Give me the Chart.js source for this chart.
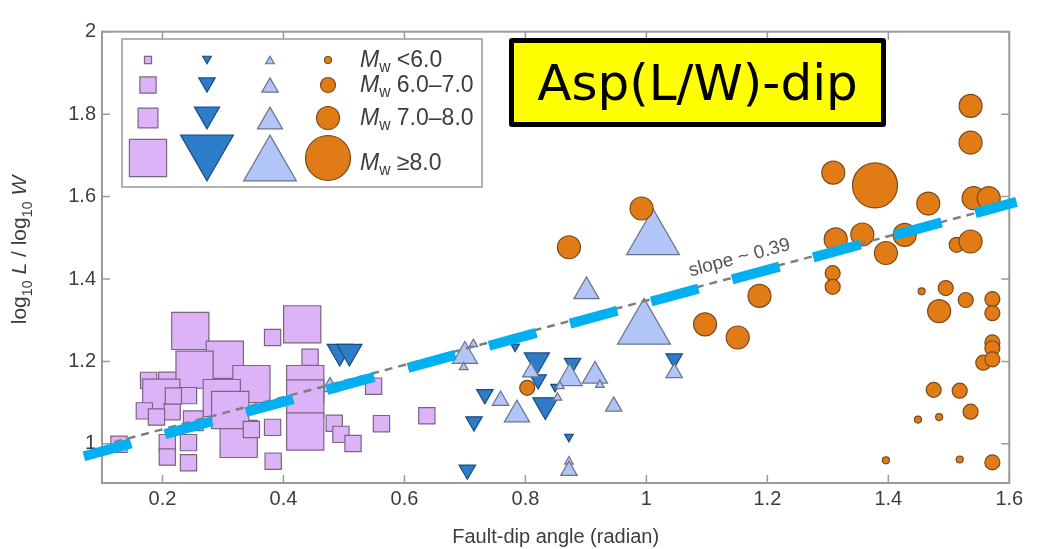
<!DOCTYPE html>
<html>
<head>
<meta charset="utf-8">
<title>Asp(L/W)-dip</title>
<script src="https://cdn.jsdelivr.net/npm/chart.js@4.4.0/dist/chart.umd.min.js"></script>
<style>
  html, body { margin: 0; padding: 0; background: #fff; }
  #wrap { position: relative; width: 1041px; height: 549px; }
  #dipTag {
    position: absolute; left: 509px; top: 38px; width: 377px; height: 89px;
    box-sizing: border-box; border: 5px solid #000; border-radius: 3px;
    background: #ffff00; color: #000;
    font-family: "Comic Sans MS", "DejaVu Sans", sans-serif; font-size: 50px;
    display: flex; align-items: center; justify-content: center;
  }
</style>
</head>
<body>
<div id="wrap">
  <canvas id="dipChart" width="1041" height="549"></canvas>
  <div id="dipTag">Asp(L/W)-dip</div>
</div>
<script>
// axis ticks
const xTicks = [0.2, 0.4, 0.6, 0.8, 1, 1.2, 1.4, 1.6];
const yTicks = [1, 1.2, 1.4, 1.6, 1.8, 2];

// magnitude bins (index used by the *Mw arrays below)
const mwBins = ['<6.0', '6.0\u20137.0', '7.0\u20138.0', '\u22658.0'];

// squares
const squareDip = [0.177, 0.210, 0.326, 0.246, 0.431, 0.303, 0.253, 0.347, 0.198, 0.298, 0.312, 0.436, 0.436, 0.436,
  0.251, 0.382, 0.243, 0.216, 0.170, 0.190, 0.347, 0.382, 0.208, 0.243, 0.128, 0.208, 0.243, 0.383, 0.444,
  0.484, 0.495, 0.515, 0.549, 0.562, 0.637, 0.218];
const squareAsp = [1.154, 1.150, 1.012, 1.274, 1.290, 1.204, 1.180, 1.145, 1.112, 1.111, 1.082, 1.145, 1.110, 1.030,
  1.056, 1.258, 1.117, 1.078, 1.080, 1.065, 1.035, 1.040, 1.003, 1.003, 0.999, 0.968, 0.954, 0.958, 1.210,
  1.050, 1.023, 1.001, 1.140, 1.049, 1.068, 1.116];
const squareMw = [1, 2, 3, 3, 3, 3, 3, 3, 3, 3, 3, 3, 3, 3,
  2, 1, 1, 1, 1, 1, 1, 1, 1, 1, 1, 1, 1, 1, 1,
  1, 1, 1, 1, 1, 1, 1];

// downward triangles
const downDip = [0.493, 0.509, 0.783, 0.819, 0.821, 0.878, 0.849, 0.733, 0.833, 0.715, 0.872, 0.704, 1.046];
const downAsp = [1.224, 1.224, 1.236, 1.203, 1.156, 1.196, 1.138, 1.120, 1.094, 1.054, 1.017, 0.937, 1.207];
const downMw = [2, 2, 0, 2, 1, 1, 0, 1, 2, 1, 0, 1, 1];

// upward triangles
const upDip = [1.011, 0.901, 0.996, 1.046, 0.946, 0.915, 0.700, 0.714, 0.698, 0.477, 0.809, 0.873, 0.923,
  0.857, 0.853, 0.759, 0.786, 0.872, 0.872];
const upAsp = [1.496, 1.370, 1.279, 1.172, 1.091, 1.165, 1.213, 1.242, 1.186, 1.138, 1.174, 1.159, 1.143,
  1.140, 1.112, 1.105, 1.071, 0.957, 0.935];
const upMw = [3, 2, 3, 1, 1, 2, 2, 0, 0, 1, 1, 2, 0, 0, 0, 1, 2, 0, 1];

// circles
const circDip = [0.872, 0.992, 1.097, 1.151, 1.187, 0.803, 1.536, 1.536, 1.309, 1.378, 1.466, 1.541, 1.566,
  1.313, 1.357, 1.396, 1.427, 1.513, 1.536, 1.308, 1.308, 1.455, 1.495, 1.528, 1.484, 1.572, 1.572,
  1.572, 1.572, 1.557, 1.572, 1.475, 1.518, 1.536, 1.449, 1.484, 1.396, 1.518, 1.572];
const circAsp = [1.477, 1.571, 1.290, 1.258, 1.359, 1.136, 1.820, 1.731, 1.658, 1.627, 1.583, 1.596, 1.596,
  1.496, 1.508, 1.463, 1.507, 1.483, 1.491, 1.414, 1.381, 1.370, 1.378, 1.349, 1.322, 1.351, 1.317,
  1.246, 1.232, 1.197, 1.205, 1.131, 1.129, 1.078, 1.059, 1.065, 0.960, 0.962, 0.955];
const circMw = [2, 2, 2, 2, 2, 1, 2, 2, 2, 3, 2, 2, 2, 2, 2, 2, 2, 1, 2, 1, 1, 0, 1, 1, 2, 1, 1,
  1, 1, 1, 1, 1, 1, 1, 0, 0, 0, 0, 1];

// fitted trend (grey) and overlaid trend (blue)
const trendDip = [0.12, 1.58];
const trendAsp = [1.004, 1.574];
const overlayDip = [0.070, 1.612];
const overlayAsp = [0.970, 1.587];
const slopeText = 'slope ~ 0.39';
const slopeAt = { x: 1.154, y: 1.451 };

// --- styling ---
const FONT = '"Liberation Sans", Arial, Helvetica, sans-serif';
const TEXT = '#3d3d3d';
const markerR = {
  rect: [5, 11.5, 14, 26.3],
  triangle: [5, 9.5, 14.5, 30.5],
  circle: [3.5, 7.5, 11.5, 22.5]
};
const series = [
  { dip: squareDip, asp: squareAsp, mw: squareMw, style: 'rect', rot: 0, fill: '#dcb3f7', edge: '#7b6482', order: 2 },
  { dip: downDip, asp: downAsp, mw: downMw, style: 'triangle', rot: 180, fill: '#2d7cca', edge: '#1d4c7e', order: 5 },
  { dip: upDip, asp: upAsp, mw: upMw, style: 'triangle', rot: 0, fill: '#b2c5f7', edge: '#6a7389', order: 4 },
  { dip: circDip, asp: circAsp, mw: circMw, style: 'circle', rot: 0, fill: '#e07b15', edge: '#7a4a1e', order: 3 }
];

Chart.defaults.font.family = FONT;

function toPoints(xs, ys) {
  return xs.map((v, i) => ({ x: v, y: ys[i] }));
}

const scatterSets = series.map(s => ({
  type: 'scatter',
  data: toPoints(s.dip, s.asp),
  pointStyle: s.style,
  rotation: s.rot,
  backgroundColor: s.fill,
  borderColor: s.edge,
  borderWidth: 1.2,
  pointRadius: c => markerR[s.style][s.mw[c.dataIndex]],
  pointHoverRadius: c => markerR[s.style][s.mw[c.dataIndex]],
  order: s.order
}));

// inward tick marks and box frame
const frameTicks = {
  id: 'frameTicks',
  beforeDatasetsDraw(chart) {
    const { ctx, chartArea: a, scales: { x, y } } = chart;
    ctx.save();
    ctx.strokeStyle = '#9a9a9a';
    ctx.lineWidth = 2;
    ctx.strokeRect(a.left, a.top, a.right - a.left, a.bottom - a.top);
    ctx.lineWidth = 1.5;
    ctx.beginPath();
    xTicks.forEach(v => {
      const px = x.getPixelForValue(v);
      ctx.moveTo(px, a.bottom); ctx.lineTo(px, a.bottom - 8);
      ctx.moveTo(px, a.top); ctx.lineTo(px, a.top + 8);
    });
    yTicks.forEach(v => {
      const py = y.getPixelForValue(v);
      ctx.moveTo(a.left, py); ctx.lineTo(a.left + 8, py);
      ctx.moveTo(a.right, py); ctx.lineTo(a.right - 8, py);
    });
    ctx.stroke();
    ctx.restore();
  }
};

// draws runs of text with italic / subscript parts
function drawRuns(ctx, runs, x, y, size) {
  let cx = x;
  runs.forEach(r => {
    const fs = r.sub ? size * 0.68 : size;
    ctx.font = (r.it ? 'italic ' : '') + fs + 'px ' + FONT;
    ctx.fillText(r.t, cx, y + (r.sub ? size * 0.28 : 0));
    cx += ctx.measureText(r.t).width;
  });
}
function runsWidth(ctx, runs, size) {
  let w = 0;
  runs.forEach(r => {
    const fs = r.sub ? size * 0.68 : size;
    ctx.font = (r.it ? 'italic ' : '') + fs + 'px ' + FONT;
    w += ctx.measureText(r.t).width;
  });
  return w;
}

const annotations = {
  id: 'annotations',
  afterDatasetsDraw(chart) {
    const { ctx, scales: { x, y } } = chart;
    // slope label, rotated along the grey trend
    const x0 = x.getPixelForValue(trendDip[0]), y0 = y.getPixelForValue(trendAsp[0]);
    const x1 = x.getPixelForValue(trendDip[1]), y1 = y.getPixelForValue(trendAsp[1]);
    ctx.save();
    ctx.translate(x.getPixelForValue(slopeAt.x), y.getPixelForValue(slopeAt.y));
    ctx.rotate(Math.atan2(y1 - y0, x1 - x0));
    ctx.fillStyle = '#555';
    ctx.font = '19px ' + FONT;
    ctx.textAlign = 'center';
    ctx.textBaseline = 'middle';
    ctx.fillText(slopeText, 0, 0);
    ctx.restore();
  },
  afterDraw(chart) {
    const ctx = chart.ctx;
    // y-axis title
    const yRuns = [{ t: 'log' }, { t: '10', sub: true }, { t: ' ' }, { t: 'L', it: true }, { t: ' / log' },
      { t: '10', sub: true }, { t: ' ' }, { t: 'W', it: true }];
    ctx.save();
    ctx.fillStyle = TEXT;
    ctx.textBaseline = 'alphabetic';
    const yw = runsWidth(ctx, yRuns, 21);
    ctx.translate(26, 250);
    ctx.rotate(-Math.PI / 2);
    drawRuns(ctx, yRuns, -yw / 2, 0, 21);
    ctx.restore();

    // magnitude legend
    const box = { left: 122, top: 39, right: 482, bottom: 187 };
    const colX = [148, 207, 270, 328];
    const rowY = [60, 85, 118, 158];
    const textY = [61, 86, 119, 164];
    ctx.save();
    ctx.fillStyle = '#fff';
    ctx.fillRect(box.left, box.top, box.right - box.left, box.bottom - box.top);
    ctx.strokeStyle = '#9a9a9a';
    ctx.lineWidth = 1.5;
    ctx.strokeRect(box.left, box.top, box.right - box.left, box.bottom - box.top);
    mwBins.forEach((label, i) => {
      series.forEach((s, j) => {
        const r = markerR[s.style][i];
        let cy = rowY[i];
        if (s.style === 'triangle') cy += (s.rot ? -r : r) / 4;
        ctx.fillStyle = s.fill;
        ctx.strokeStyle = s.edge;
        ctx.lineWidth = 1.2;
        Chart.helpers.drawPoint(ctx, { pointStyle: s.style, radius: r, rotation: s.rot, borderWidth: 1.2 }, colX[j], cy);
      });
      ctx.fillStyle = TEXT;
      ctx.textBaseline = 'middle';
      drawRuns(ctx, [{ t: 'M', it: true }, { t: 'w', sub: true }, { t: ' ' + label }], 360, textY[i], 23);
    });
    ctx.restore();
  }
};

new Chart(document.getElementById('dipChart'), {
  type: 'scatter',
  data: {
    datasets: [
      {
        type: 'line',
        data: toPoints(overlayDip, overlayAsp),
        borderColor: '#00b0f0',
        borderWidth: 10,
        borderDash: [49, 35],
        borderCapStyle: 'butt',
        pointRadius: 0,
        fill: false,
        clip: false,
        order: 0
      },
      {
        type: 'line',
        data: toPoints(trendDip, trendAsp),
        borderColor: '#7f7f7f',
        borderWidth: 2.5,
        borderDash: [8, 6],
        pointRadius: 0,
        fill: false,
        order: 1
      },
      ...scatterSets
    ]
  },
  options: {
    responsive: false,
    animation: false,
    events: [],
    layout: { padding: { left: 0, right: 28, top: 15, bottom: 0 } },
    plugins: { legend: { display: false }, tooltip: { enabled: false } },
    scales: {
      x: {
        type: 'linear', min: 0.1, max: 1.6,
        afterBuildTicks: s => { s.ticks = xTicks.map(v => ({ value: v })); },
        afterFit: s => { s.height = 66; },
        grid: { display: false, drawTicks: false },
        border: { display: false },
        ticks: { color: TEXT, font: { size: 20 }, padding: 4, maxRotation: 0, callback: v => String(+v.toFixed(1)) },
        title: { display: true, text: 'Fault-dip angle (radian)', color: TEXT, font: { size: 20 }, padding: { top: 0, bottom: 0 } }
      },
      y: {
        type: 'linear', min: 0.905, max: 2,
        afterBuildTicks: s => { s.ticks = yTicks.map(v => ({ value: v })); },
        afterFit: s => { s.width = 102; },
        grid: { display: false, drawTicks: false },
        border: { display: false },
        ticks: { color: TEXT, font: { size: 20 }, padding: 6, callback: v => String(+v.toFixed(1)) }
      }
    }
  },
  plugins: [frameTicks, annotations]
});
</script>
</body>
</html>
